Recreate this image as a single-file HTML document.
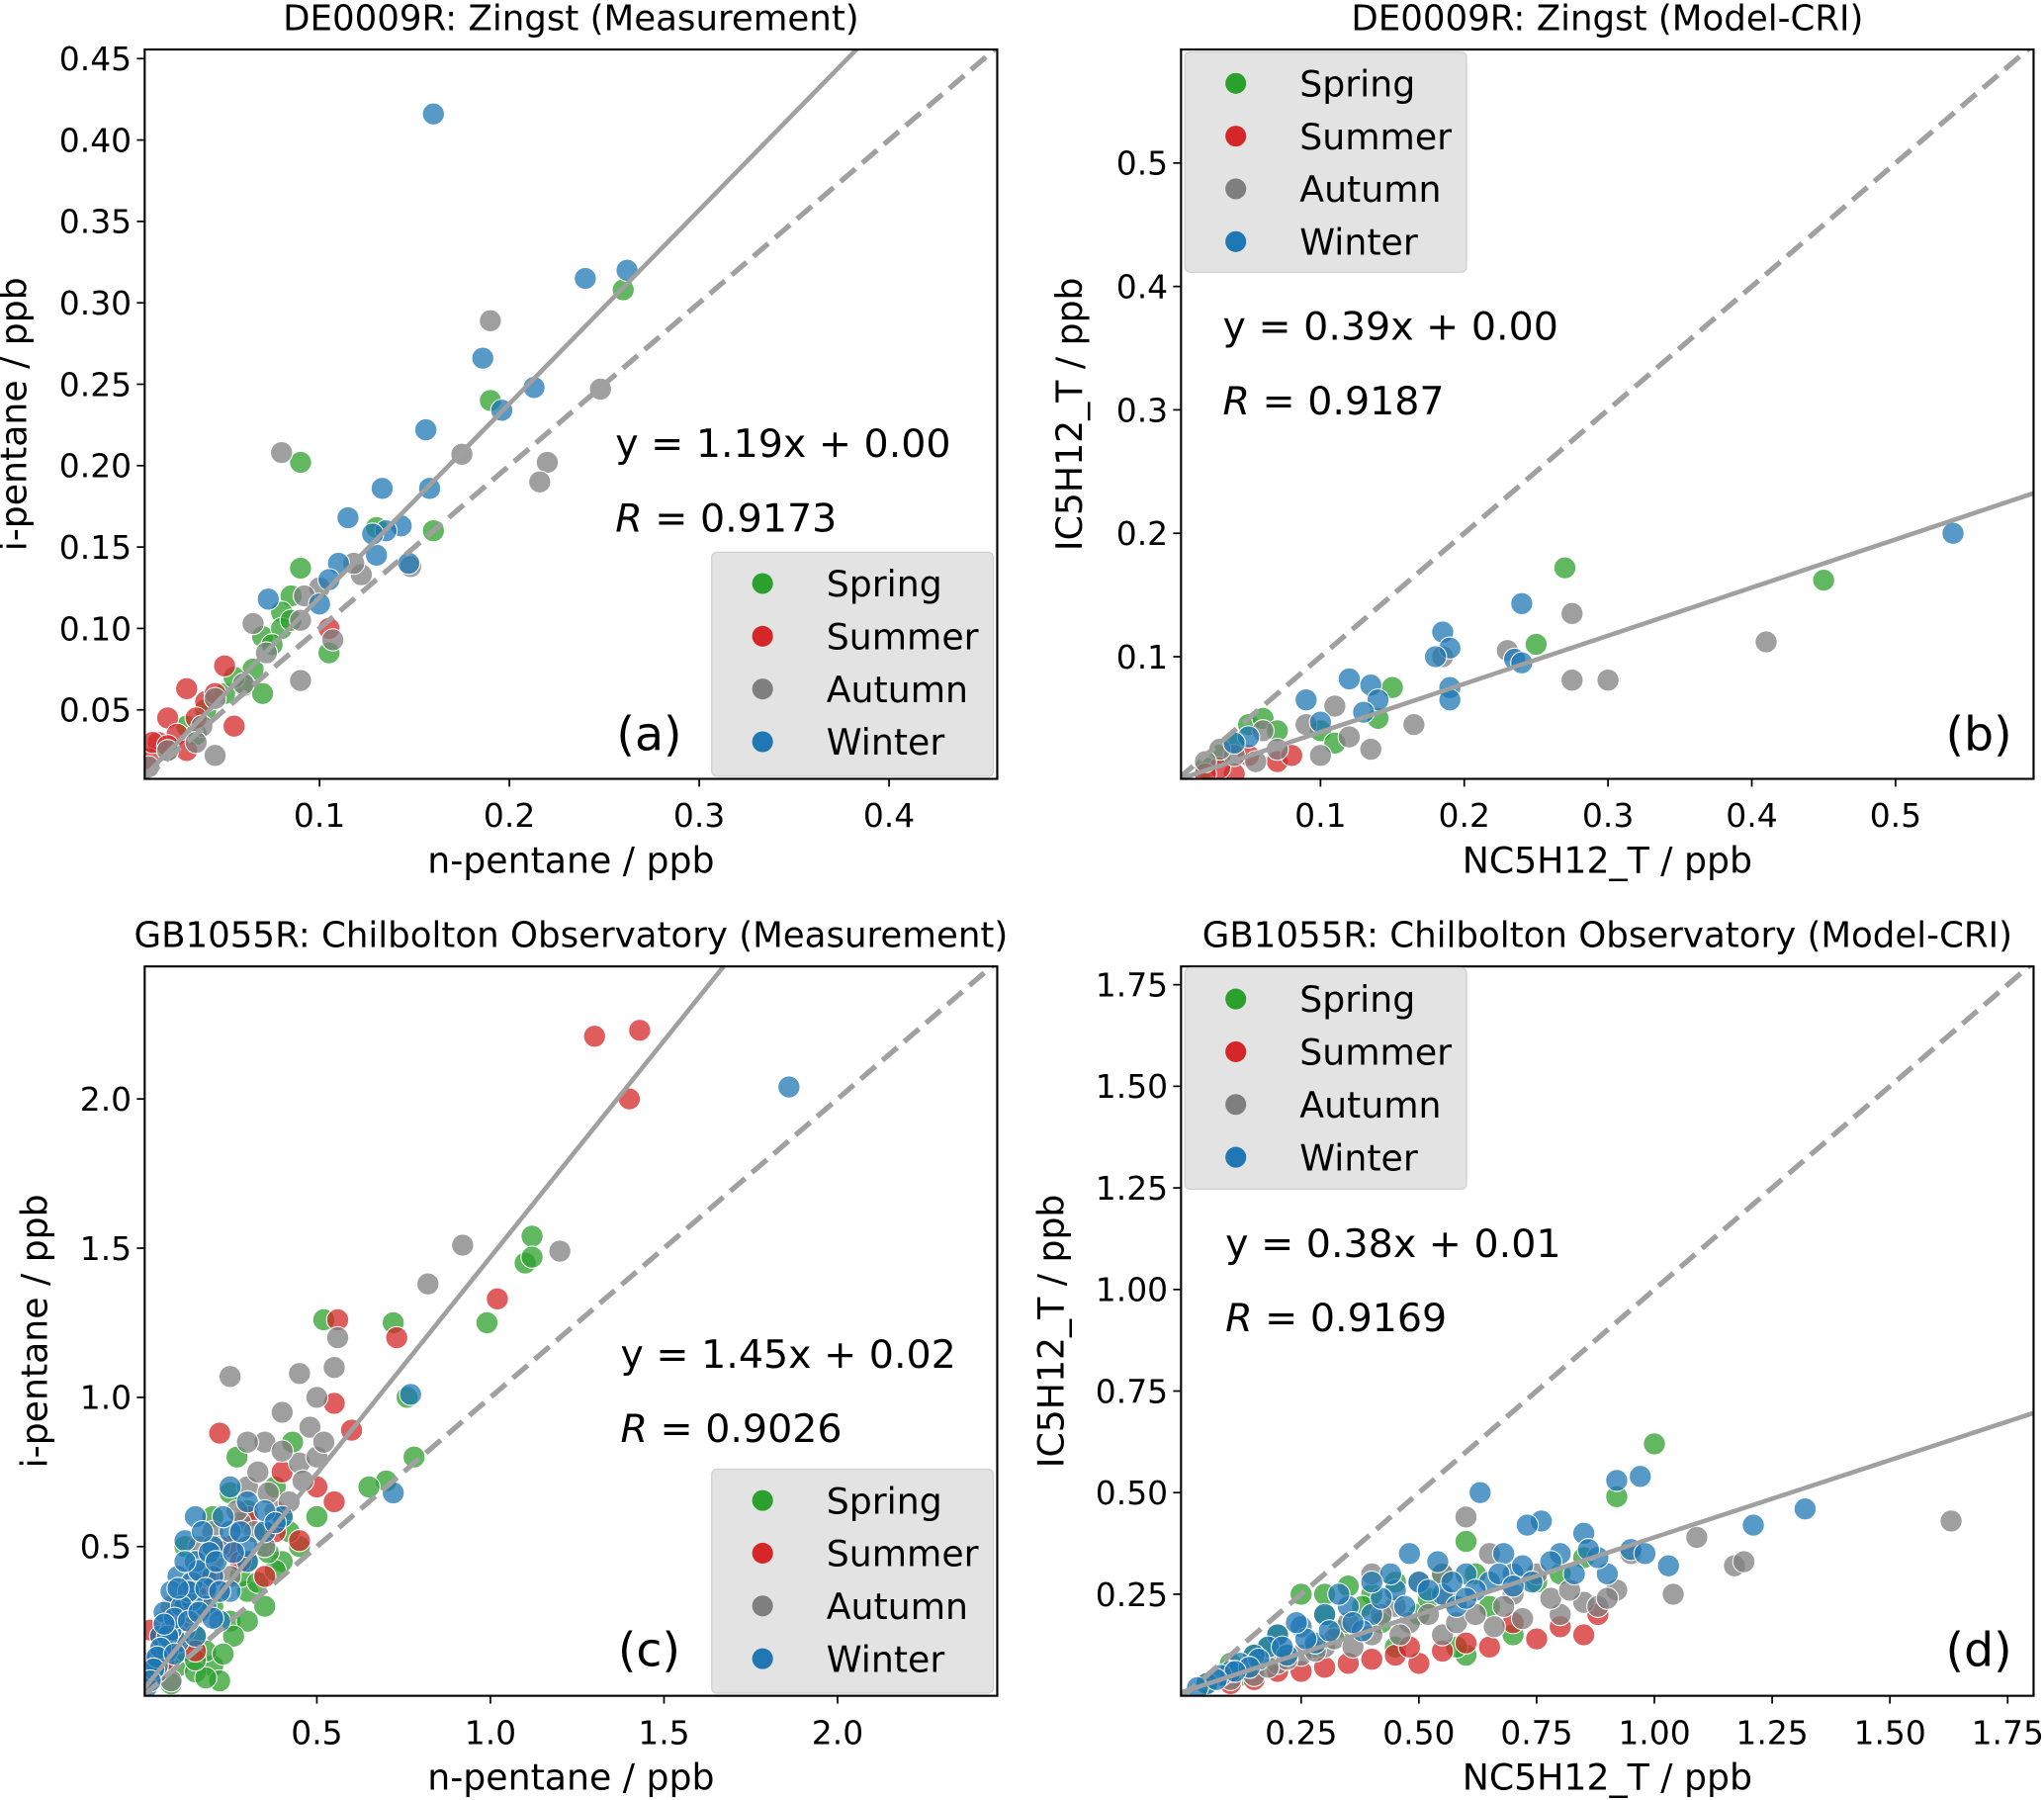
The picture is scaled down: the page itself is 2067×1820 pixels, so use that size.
<!DOCTYPE html>
<html><head><meta charset="utf-8"><style>
html,body{margin:0;padding:0;background:#fff;}
svg{display:block;font-family:"DejaVu Sans","Liberation Sans",sans-serif;}
</style></head><body>
<svg id="fig" width="2067" height="1820" viewBox="0 0 1568 1382" preserveAspectRatio="none" xmlns="http://www.w3.org/2000/svg"></svg>
<script>
// ---------- Panel (a) data ----------
const aSpring=[[0.09,0.202],[0.26,0.308],[0.19,0.24],[0.16,0.16],[0.13,0.162],[0.09,0.137],[0.085,0.12],[0.08,0.11],[0.105,0.085],[0.07,0.095],[0.065,0.075],[0.06,0.065],[0.07,0.06],[0.08,0.1],[0.05,0.06],[0.04,0.05],[0.03,0.04],[0.02,0.025],[0.035,0.035],[0.055,0.07],[0.085,0.105],[0.075,0.09]];
const aSummer=[[0.105,0.1],[0.05,0.077],[0.03,0.063],[0.04,0.055],[0.055,0.04],[0.02,0.045],[0.015,0.03],[0.025,0.035],[0.01,0.02],[0.03,0.025],[0.045,0.06],[0.035,0.045],[0.012,0.03],[0.02,0.028]];
const aAutumn=[[0.08,0.208],[0.19,0.289],[0.175,0.207],[0.248,0.247],[0.22,0.202],[0.216,0.19],[0.148,0.138],[0.122,0.133],[0.118,0.14],[0.1,0.125],[0.09,0.105],[0.107,0.093],[0.09,0.068],[0.065,0.103],[0.072,0.085],[0.06,0.066],[0.045,0.057],[0.038,0.04],[0.045,0.022],[0.02,0.025],[0.01,0.015],[0.035,0.03],[0.092,0.12]];
const aWinter=[[0.16,0.416],[0.262,0.32],[0.24,0.315],[0.186,0.266],[0.213,0.248],[0.196,0.234],[0.156,0.222],[0.133,0.186],[0.158,0.186],[0.115,0.168],[0.143,0.163],[0.135,0.16],[0.13,0.145],[0.147,0.14],[0.11,0.14],[0.105,0.13],[0.1,0.115],[0.073,0.118],[0.128,0.158]];
// ---------- Panel (b) data ----------
const bSpring=[[0.27,0.172],[0.45,0.162],[0.25,0.11],[0.15,0.075],[0.14,0.05],[0.1,0.04],[0.11,0.03],[0.05,0.045],[0.06,0.05],[0.04,0.03],[0.03,0.02],[0.02,0.01],[0.07,0.04]];
const bSummer=[[0.04,0.005],[0.07,0.015],[0.05,0.02],[0.03,0.01],[0.02,0.005],[0.08,0.02]];
const bAutumn=[[0.275,0.135],[0.41,0.112],[0.3,0.081],[0.275,0.081],[0.185,0.1],[0.165,0.045],[0.135,0.025],[0.12,0.035],[0.09,0.045],[0.1,0.02],[0.07,0.025],[0.055,0.015],[0.04,0.02],[0.03,0.025],[0.02,0.015],[0.06,0.04],[0.23,0.105],[0.11,0.06]];
const bWinter=[[0.54,0.2],[0.24,0.143],[0.185,0.12],[0.19,0.107],[0.18,0.1],[0.235,0.098],[0.24,0.095],[0.19,0.075],[0.19,0.065],[0.135,0.077],[0.14,0.065],[0.12,0.082],[0.13,0.055],[0.1,0.047],[0.09,0.065],[0.05,0.035],[0.04,0.03]];
// ---------- Panel (c) data ----------
const cSpring=[[1.12,1.54],[1.1,1.45],[1.12,1.47],[0.99,1.25],[0.72,1.25],[0.52,1.26],[0.78,0.8],[0.76,1.0],[0.7,0.72],[0.65,0.7],[0.5,0.6],[0.43,0.85],[0.4,0.6],[0.35,0.55],[0.3,0.45],[0.25,0.68],[0.2,0.3],[0.25,0.25],[0.15,0.2],[0.1,0.1],[0.2,0.1],[0.3,0.35],[0.4,0.45],[0.45,0.5],[0.35,0.3],[0.12,0.5],[0.2,0.6],[0.1,0.3],[0.05,0.1],[0.18,0.15],[0.22,0.05],[0.15,0.08],[0.28,0.4],[0.05,0.2],[0.3,0.25],[0.33,0.38],[0.38,0.42],[0.26,0.2],[0.18,0.06],[0.12,0.15],[0.42,0.55],[0.36,0.48],[0.23,0.14],[0.08,0.04],[0.15,0.12],[0.3,0.62],[0.27,0.8],[0.38,0.7]];
const cSummer=[[1.3,2.21],[1.43,2.23],[1.4,2.0],[1.02,1.33],[0.73,1.2],[0.56,1.26],[0.55,0.98],[0.6,0.89],[0.22,0.88],[0.55,0.65],[0.45,0.52],[0.3,0.6],[0.2,0.4],[0.1,0.25],[0.05,0.2],[0.15,0.15],[0.35,0.4],[0.4,0.75],[0.25,0.5],[0.03,0.1],[0.02,0.22],[0.08,0.18],[0.12,0.3],[0.28,0.45],[0.38,0.55],[0.5,0.7],[0.18,0.35],[0.06,0.12]];
const cAutumn=[[0.92,1.51],[1.2,1.49],[0.82,1.38],[0.25,1.07],[0.45,1.08],[0.55,1.1],[0.56,1.2],[0.5,1.0],[0.4,0.95],[0.35,0.85],[0.45,0.78],[0.3,0.7],[0.5,0.8],[0.38,0.62],[0.28,0.58],[0.2,0.45],[0.15,0.35],[0.1,0.3],[0.05,0.15],[0.3,0.85],[0.35,0.5],[0.25,0.4],[0.2,0.55],[0.12,0.22],[0.42,0.65],[0.48,0.9],[0.08,0.05],[0.33,0.75],[0.4,0.82],[0.36,0.68],[0.27,0.62],[0.22,0.5],[0.18,0.4],[0.14,0.28],[0.06,0.25],[0.1,0.2],[0.46,0.72],[0.52,0.85],[0.32,0.55],[0.16,0.5],[0.08,0.3],[0.04,0.08]];
const cWinter=[[1.86,2.04],[0.77,1.01],[0.72,0.68],[0.4,0.6],[0.35,0.55],[0.3,0.65],[0.25,0.55],[0.2,0.5],[0.15,0.45],[0.25,0.7],[0.15,0.6],[0.12,0.52],[0.1,0.4],[0.08,0.35],[0.06,0.28],[0.05,0.2],[0.03,0.12],[0.02,0.06],[0.18,0.3],[0.25,0.35],[0.22,0.25],[0.12,0.3],[0.3,0.45],[0.1,0.18],[0.07,0.15],[0.15,0.2],[0.2,0.4],[0.3,0.5],[0.14,0.32],[0.08,0.22],[0.04,0.1],[0.01,0.03],[0.14,0.38],[0.16,0.42],[0.13,0.35],[0.11,0.3],[0.09,0.26],[0.07,0.2],[0.05,0.16],[0.04,0.13],[0.03,0.09],[0.02,0.05],[0.19,0.48],[0.21,0.45],[0.17,0.55],[0.23,0.6],[0.12,0.45],[0.1,0.36],[0.06,0.24],[0.18,0.36],[0.26,0.48],[0.28,0.55],[0.09,0.14],[0.13,0.25],[0.16,0.28],[0.22,0.35],[0.35,0.62],[0.38,0.58],[0.2,0.26]];
// ---------- Panel (d) data ----------
const dSpring=[[1.0,0.62],[0.92,0.49],[0.6,0.38],[0.35,0.27],[0.25,0.25],[0.4,0.25],[0.5,0.2],[0.6,0.1],[0.7,0.15],[0.3,0.2],[0.2,0.15],[0.15,0.1],[0.1,0.08],[0.45,0.12],[0.8,0.3],[0.55,0.3],[0.05,0.03],[0.65,0.22],[0.3,0.25],[0.38,0.22],[0.45,0.28],[0.52,0.24],[0.28,0.12],[0.22,0.1],[0.18,0.12],[0.12,0.05],[0.58,0.12],[0.75,0.28],[0.85,0.34],[0.33,0.16],[0.42,0.18],[0.62,0.3]];
const dSummer=[[0.85,0.15],[0.75,0.14],[0.6,0.13],[0.45,0.1],[0.3,0.07],[0.2,0.06],[0.1,0.03],[0.88,0.2],[0.5,0.08],[0.7,0.18],[0.4,0.09],[0.55,0.11],[0.65,0.12],[0.35,0.08],[0.25,0.06],[0.15,0.04],[0.8,0.17],[0.48,0.12]];
const dAutumn=[[1.63,0.43],[1.17,0.32],[1.19,0.33],[1.09,0.39],[1.04,0.25],[0.92,0.26],[0.85,0.23],[0.8,0.2],[0.7,0.25],[0.6,0.44],[0.55,0.3],[0.5,0.28],[0.45,0.22],[0.4,0.15],[0.35,0.18],[0.3,0.12],[0.25,0.1],[0.2,0.08],[0.15,0.05],[0.1,0.04],[0.65,0.35],[0.75,0.3],[0.95,0.35],[0.55,0.15],[0.4,0.3],[0.42,0.2],[0.48,0.18],[0.52,0.2],[0.58,0.18],[0.62,0.2],[0.68,0.22],[0.72,0.19],[0.78,0.24],[0.82,0.26],[0.88,0.22],[0.32,0.14],[0.36,0.12],[0.28,0.11],[0.22,0.09],[0.18,0.07],[0.46,0.15],[0.56,0.24],[0.66,0.17],[0.9,0.24]];
const dWinter=[[1.32,0.46],[1.21,0.42],[0.97,0.54],[0.92,0.53],[1.03,0.32],[0.63,0.5],[0.76,0.43],[0.73,0.42],[0.85,0.4],[0.8,0.35],[0.7,0.3],[0.65,0.28],[0.6,0.3],[0.55,0.25],[0.5,0.28],[0.45,0.26],[0.4,0.2],[0.35,0.22],[0.3,0.2],[0.25,0.17],[0.2,0.15],[0.18,0.12],[0.15,0.1],[0.12,0.08],[0.1,0.06],[0.08,0.05],[0.05,0.03],[0.03,0.02],[0.48,0.35],[0.9,0.3],[0.22,0.1],[0.28,0.13],[0.38,0.16],[0.58,0.22],[0.68,0.35],[0.95,0.36],[0.33,0.25],[0.42,0.24],[0.47,0.22],[0.52,0.26],[0.57,0.28],[0.62,0.26],[0.67,0.3],[0.72,0.32],[0.78,0.33],[0.83,0.3],[0.88,0.34],[0.36,0.18],[0.26,0.14],[0.21,0.12],[0.16,0.09],[0.14,0.07],[0.11,0.06],[0.07,0.04],[0.44,0.3],[0.54,0.33],[0.74,0.28],[0.86,0.36],[0.98,0.35],[0.31,0.16],[0.24,0.18],[0.4,0.28],[0.6,0.24],[0.7,0.27]];
// ---------- ticks, fits ----------
const aXTicks=[0.1,0.2,0.3,0.4], aYTicks=[0.05,0.10,0.15,0.20,0.25,0.30,0.35,0.40,0.45];
const bXTicks=[0.1,0.2,0.3,0.4,0.5], bYTicks=[0.1,0.2,0.3,0.4,0.5];
const cXTicks=[0.5,1.0,1.5,2.0], cYTicks=[0.5,1.0,1.5,2.0];
const dXTicks=[0.25,0.5,0.75,1.0,1.25,1.5,1.75], dYTicks=[0.25,0.5,0.75,1.0,1.25,1.5,1.75];
const aFit=[1.19,0.00], bFit=[0.39,0.00], cFit=[1.45,0.02], dFit=[0.38,0.01];
const seasonNames=["Spring","Summer","Autumn","Winter"];
const seasonColors=["#2ca02c","#d62728","#7f7f7f","#1f77b4"];

const NS="http://www.w3.org/2000/svg";
const fig=document.getElementById('fig');
function mk(tag,attrs,parent){const e=document.createElementNS(NS,tag);for(const k in attrs)e.setAttribute(k,attrs[k]);(parent||fig).appendChild(e);return e;}

const panels=[
 {id:'a',box:[111,38,765,598],xr:[0.0079,0.457],yr:[0.0076,0.4556],xt:aXTicks,yt:aYTicks,xf:v=>v.toFixed(1),yf:v=>v.toFixed(2),
  series:[aSpring,aSummer,aAutumn,aWinter],fit:aFit,title:"DE0009R: Zingst (Measurement)",xl:"n-pentane / ppb",yl:"i-pentane / ppb",ylx:20,
  eq:[472,351],leg:[546,424],legw:216,legh:172,lab:[498,576]},
 {id:'b',box:[906,38,1560,598],xr:[0.003,0.596],yr:[0.001,0.592],xt:bXTicks,yt:bYTicks,xf:v=>v.toFixed(1),yf:v=>v.toFixed(1),
  series:[bSpring,bSummer,bAutumn,bWinter],fit:bFit,title:"DE0009R: Zingst (Model-CRI)",xl:"NC5H12_T / ppb",yl:"IC5H12_T / ppb",ylx:830,
  eq:[938,261],leg:[909,40],legw:216,legh:169,lab:[1518,576]},
 {id:'c',box:[111,742,765,1302],xr:[0.004,2.46],yr:[0.0,2.444],xt:cXTicks,yt:cYTicks,xf:v=>v.toFixed(1),yf:v=>v.toFixed(1),
  series:[cSpring,cSummer,cAutumn,cWinter],fit:cFit,title:"GB1055R: Chilbolton Observatory (Measurement)",xl:"n-pentane / ppb",yl:"i-pentane / ppb",ylx:36,
  eq:[476,1050],leg:[546,1128],legw:216,legh:172,lab:[498,1279]},
 {id:'d',box:[906,742,1560,1302],xr:[-0.005,1.805],yr:[0.0,1.795],xt:dXTicks,yt:dYTicks,xf:v=>v.toFixed(2),yf:v=>v.toFixed(2),
  series:[dSpring,dSummer,dAutumn,dWinter],fit:dFit,title:"GB1055R: Chilbolton Observatory (Model-CRI)",xl:"NC5H12_T / ppb",yl:"IC5H12_T / ppb",ylx:816,
  eq:[940,965],leg:[909,743],legw:216,legh:170,lab:[1518,1279]}
];

panels.forEach(p=>{
  const [x0,y0,x1,y1]=p.box;
  const sx=v=>x0+(v-p.xr[0])/(p.xr[1]-p.xr[0])*(x1-x0);
  const sy=v=>y1-(v-p.yr[0])/(p.yr[1]-p.yr[0])*(y1-y0);
  const g=mk('g',{});
  
  
  const cp=mk('clipPath',{id:'clip'+p.id},g);
  mk('rect',{x:x0,y:y0,width:x1-x0,height:y1-y0},cp);
  const plot=mk('g',{'clip-path':'url(#clip'+p.id+')'},g);
  p.series.forEach((s,i)=>{
    const sg=mk('g',{},plot);
    
    
    s.forEach(pt=>{
      const c=mk('circle',{cx:sx(pt[0]),cy:sy(pt[1]),r:8.5,fill:seasonColors[i],'fill-opacity':0.75,stroke:'#fff','stroke-width':0.8},sg);
      
      
    });
  });
  const lo=Math.min(p.xr[0],p.yr[0]), hi=Math.max(p.xr[1],p.yr[1]);
  const dl=mk('line',{x1:sx(lo),y1:sy(lo),x2:sx(hi),y2:sy(hi),stroke:'#a0a0a0','stroke-width':4,'stroke-dasharray':'15,7'},plot);
  
  
  const fl=mk('line',{x1:sx(p.xr[0]),y1:sy(p.fit[0]*p.xr[0]+p.fit[1]),x2:sx(p.xr[1]),y2:sy(p.fit[0]*p.xr[1]+p.fit[1]),stroke:'#a0a0a0','stroke-width':3.5},plot);
  
  
  const fr=mk('rect',{x:x0,y:y0,width:x1-x0,height:y1-y0,fill:'none',stroke:'#000','stroke-width':1.6},g);
  
  
  p.xt.forEach(v=>{
    const X=sx(v);
    mk('line',{x1:X,y1:y1,x2:X,y2:y1+6,stroke:'#000','stroke-width':1.3},g);
    const t=mk('text',{x:X,y:y1+37,'font-size':25,'text-anchor':'middle',fill:'#000'},g);
    t.textContent=p.xf(v);
    
    
  });
  p.yt.forEach(v=>{
    const Y=sy(v);
    mk('line',{x1:x0-6,y1:Y,x2:x0,y2:Y,stroke:'#000','stroke-width':1.3},g);
    const t=mk('text',{x:x0-10,y:Y+9,'font-size':25,'text-anchor':'end',fill:'#000'},g);
    t.textContent=p.yf(v);
    
    
  });
  const tt=mk('text',{x:(x0+x1)/2,y:y0-15,'font-size':27,'text-anchor':'middle',fill:'#000'},g);
  tt.textContent=p.title;
  
  
  const xl=mk('text',{x:(x0+x1)/2,y:y1+72,'font-size':27.5,'text-anchor':'middle',fill:'#000'},g);
  xl.textContent=p.xl;
  
  
  const yl=mk('text',{x:0,y:0,'font-size':27.5,'text-anchor':'middle',fill:'#000',transform:'translate('+p.ylx+','+((y0+y1)/2)+') rotate(-90)'},g);
  yl.textContent=p.yl;
  
  
  const sign=p.fit[1]>=0?'+':'−';
  const eq=mk('text',{x:p.eq[0],y:p.eq[1],'font-size':30,fill:'#000'},g);
  eq.textContent='y = '+p.fit[0].toFixed(2)+'x '+sign+' '+Math.abs(p.fit[1]).toFixed(2);
  
  
  const rt=mk('text',{x:p.eq[0],y:p.eq[1]+57,'font-size':30,fill:'#000'},g);
  rt.innerHTML='<tspan font-style="italic">R</tspan> = '+{a:'0.9173',b:'0.9187',c:'0.9026',d:'0.9169'}[p.id];
  
  
  const lb=mk('text',{x:p.lab[0],y:p.lab[1],'font-size':36,'text-anchor':'middle',fill:'#000'},g);
  lb.textContent='('+p.id+')';
  
  
  const lg=mk('g',{},g);
  
  
  mk('rect',{x:p.leg[0],y:p.leg[1],width:p.legw,height:p.legh,rx:4,fill:'#e3e3e3',stroke:'#d0d0d0','stroke-width':1},lg);
  seasonNames.forEach((n,i)=>{
    const cy=p.leg[1]+24+i*40.5;
    const e=mk('g',{},lg);
    
    
    mk('circle',{cx:p.leg[0]+39,cy:cy,r:8,fill:seasonColors[i]},e);
    const t=mk('text',{x:p.leg[0]+88,y:cy+10,'font-size':27.5,fill:'#000'},e);
    t.textContent=n;
  });
});
</script>
</body></html>
